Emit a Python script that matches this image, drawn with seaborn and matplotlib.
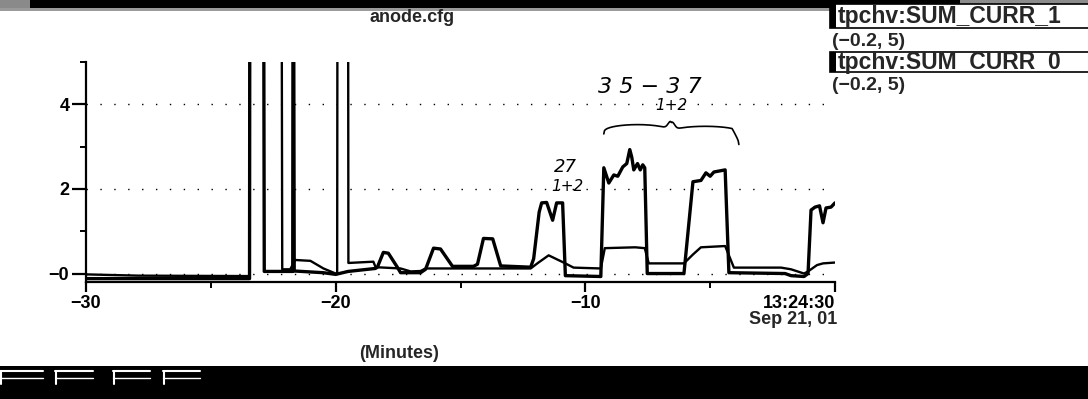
import numpy as np
import pandas as pd
import seaborn as sns
import matplotlib
matplotlib.use("Agg")
import matplotlib.pyplot as plt
from matplotlib.patches import Rectangle

# Strip-chart history of the two anode current sums (minutes before 13:24:30)
minutes_1 = [-30.0, -23.45, -23.44, -22.88, -22.86, -22.10, -21.72, -21.71, -21.68, -21.66,
             -20.50, -20.00, -19.50, -18.41, -18.33, -18.09, -17.89, -17.53, -17.40, -16.60,
             -16.40, -16.08, -15.80, -15.32, -14.48, -14.32, -14.08, -13.71, -13.39, -12.19,
             -12.07, -11.85, -11.75, -11.55, -11.31, -11.15, -10.91, -10.80, -9.38, -9.26,
             -9.06, -8.86, -8.70, -8.50, -8.34, -8.22, -8.14, -8.06, -7.91, -7.80,
             -7.70, -7.62, -7.52, -6.05, -5.69, -5.37, -5.17, -5.00, -4.85, -4.40,
             -4.25, -2.00, -1.76, -1.24, -1.08, -0.96, -0.80, -0.62, -0.48, -0.36,
             -0.16, 0.0]
curr_1 = [-0.12, -0.12, 6.0, 6.0, 0.05, 0.05, 0.05, 6.0, 6.0, 0.06,
          0.02, -0.02, 0.05, 0.12, 0.15, 0.50, 0.48, 0.15, 0.02, 0.02,
          0.10, 0.60, 0.58, 0.17, 0.17, 0.22, 0.83, 0.82, 0.18, 0.15,
          0.35, 1.45, 1.67, 1.68, 1.26, 1.67, 1.67, -0.05, -0.07, 2.50,
          2.14, 2.33, 2.30, 2.52, 2.60, 2.93, 2.75, 2.45, 2.60, 2.45,
          2.57, 2.50, 0.00, 0.00, 2.17, 2.20, 2.38, 2.30, 2.40, 2.45,
          0.02, 0.00, -0.05, -0.07, 0.00, 1.50, 1.57, 1.60, 1.20, 1.55,
          1.57, 1.67]

minutes_0 = [-30.0, -27.9, -23.45, -23.44, -22.16, -22.14, -21.82, -21.62, -21.01, -20.49,
             -20.00, -19.94, -19.93, -19.50, -19.49, -18.49, -18.40, -17.40, -17.00, -16.60,
             -16.40, -12.19, -11.90, -11.47, -10.87, -10.47, -9.38, -9.22, -8.00, -7.62,
             -7.46, -6.05, -5.69, -5.37, -4.40, -4.05, -2.16, -1.76, -1.24, -1.08,
             -0.72, -0.48, 0.0]
curr_0 = [-0.02, -0.05, -0.06, 6.0, 6.0, 0.10, 0.10, 0.32, 0.30, 0.12,
          0.00, 0.00, 6.0, 6.0, 0.25, 0.28, 0.15, 0.12, 0.05, 0.06,
          0.12, 0.12, 0.25, 0.43, 0.26, 0.14, 0.12, 0.60, 0.62, 0.60,
          0.24, 0.24, 0.45, 0.62, 0.65, 0.14, 0.14, 0.10, 0.00, 0.05,
          0.20, 0.24, 0.26]

channels = ["tpchv:SUM_CURR_1", "tpchv:SUM_CURR_0"]
channel_range = "(\u22120.2, 5)"
x_ticks = [-30, -20, -10, 0]
x_ticklabels = ["\u221230", "\u221220", "\u221210", "13:24:30"]
y_ticks = [0, 2, 4]
y_ticklabels = ["\u22120", "2", "4"]

df = pd.concat([
    pd.DataFrame({"minutes": minutes_1, "current": curr_1, "channel": channels[0]}),
    pd.DataFrame({"minutes": minutes_0, "current": curr_0, "channel": channels[1]}),
], ignore_index=True)

sns.set_theme(style="ticks")
plt.rcParams["font.family"] = ["Liberation Sans", "DejaVu Sans"]
plt.rcParams["font.weight"] = "bold"

W, H = 1088, 399
fig = plt.figure(figsize=(W / 100, H / 100), dpi=100)
fig.patch.set_facecolor("white")


def fx(px):
    return px / W


def fy(py):
    return 1 - py / H


ax = fig.add_axes([fx(86), fy(282), fx(835 - 86), (282 - 62) / H])

sns.lineplot(data=df, x="minutes", y="current", hue="channel", size="channel",
             palette={channels[0]: "black", channels[1]: "black"},
             sizes={channels[0]: 2.4, channels[1]: 1.7},
             estimator=None, sort=False, legend=False, ax=ax)

ax.set_xlim(-30, 0)
ax.set_ylim(-0.2, 5)
ax.set_xlabel("")
ax.set_ylabel("")
for side in ("top", "right"):
    ax.spines[side].set_visible(False)
for side in ("left", "bottom"):
    ax.spines[side].set_linewidth(1.6)
    ax.spines[side].set_color("black")

ax.set_xticks(x_ticks)
ax.set_xticklabels(x_ticklabels)
ax.set_xticks([-25, -15, -5], minor=True)
ax.set_yticks(y_ticks)
ax.set_yticklabels(y_ticklabels)
ax.set_yticks([1, 3, 5], minor=True)
ax.tick_params(which="major", direction="out", width=1.6, colors="black", labelsize=13)
ax.tick_params(axis="x", which="major", length=7, pad=2)
ax.tick_params(axis="y", which="major", length=10, pad=2)
ax.tick_params(which="minor", direction="out", length=4, width=1.4, colors="black")
for lbl in ax.get_xticklabels() + ax.get_yticklabels():
    lbl.set_fontweight("bold")
ax.get_xticklabels()[-1].set_horizontalalignment("right")

ax.grid(axis="y", which="major", color="black", linestyle=(0, (1, 9)), linewidth=1.0)
ax.set_axisbelow(True)

# title, axis captions
fig.text(fx(412), fy(17), "anode.cfg", ha="center", va="center", fontsize=13, fontweight="bold")
fig.text(fx(837), fy(319), "Sep 21, 01", ha="right", va="center", fontsize=13, fontweight="bold")
fig.text(fx(399), fy(353), "(Minutes)", ha="center", va="center", fontsize=13, fontweight="bold")

# pen notes on the printout
hand = dict(family="DejaVu Sans", fontweight="light", style="italic", color="black")
ax.text(-10.8, 2.52, "27", ha="center", va="center", fontsize=13, **hand)
ax.text(-10.7, 2.05, "1+2", ha="center", va="center", fontsize=11, **hand)
ax.text(-7.4, 4.4, "3 5 \u2212 3 7", ha="center", va="center", fontsize=16, **hand)
ax.text(-6.55, 3.96, "1+2", ha="center", va="center", fontsize=11, **hand)

b0, b1 = minutes_1[39], minutes_1[60] + 0.4
t = np.linspace(0, 1, 200)
mid = 0.5
brace = 3.3 + 0.22 * np.sin(np.pi * np.clip(t / mid, 0, 1)) ** 0.3 * (t < mid) \
    + 0.18 * np.sin(np.pi * np.clip((t - mid) / (1 - mid), 0, 1)) ** 0.3 * (t >= mid) \
    + 0.22 * np.exp(-((t - mid) / 0.03) ** 2)
brace = brace - 0.25 * (t > 0.95) * ((t - 0.95) / 0.05)
ax.plot(b0 + (b1 - b0) * t, brace, color="black", lw=1.2, clip_on=False)

# window frame bands
fig.add_artist(Rectangle((fx(30), fy(8)), fx(930), 8 / H, transform=fig.transFigure,
                         facecolor="black", edgecolor="none"))
fig.add_artist(Rectangle((0, fy(8)), fx(30), 8 / H, transform=fig.transFigure,
                         facecolor="#8a8a8a", edgecolor="none"))
fig.add_artist(Rectangle((0, fy(11)), fx(830), 3 / H, transform=fig.transFigure,
                         facecolor="#9a9a9a", edgecolor="none"))
fig.add_artist(Rectangle((fx(960), fy(8)), fx(W - 960), 8 / H, transform=fig.transFigure,
                         facecolor="#8c8c8c", edgecolor="none"))

# legend block on the right
rows = [(4, 28, channels[0]), (52, 72, channels[1])]
for top, bot, name in rows:
    fig.add_artist(Rectangle((fx(830), fy(bot)), fx(W - 830 + 2), (bot - top) / H,
                             transform=fig.transFigure, facecolor="white",
                             edgecolor="black", lw=1.2))
    fig.add_artist(Rectangle((fx(830), fy(bot)), fx(6), (bot - top) / H,
                             transform=fig.transFigure, facecolor="black", edgecolor="none"))
    fig.text(fx(838), fy((top + bot) / 2 + 1), name, ha="left", va="center",
             fontsize=16.5, fontweight="bold")
for yc in (41, 86):
    fig.text(fx(832), fy(yc), channel_range, ha="left", va="center", fontsize=14,
             fontweight="bold")

fig.add_artist(Rectangle((0, 0), 1, (H - 366) / H, transform=fig.transFigure,
                         facecolor="black", edgecolor="none"))
for x0, x1 in [(0, 43), (55, 93), (113, 150), (163, 200)]:
    fig.add_artist(plt.Line2D([fx(x0), fx(x1)], [fy(371), fy(371)], transform=fig.transFigure,
                              color="white", lw=1.5))
    fig.add_artist(plt.Line2D([fx(x0 + 1), fx(x0 + 1)], [fy(371), fy(384)],
                              transform=fig.transFigure, color="white", lw=1.5))
    fig.add_artist(plt.Line2D([fx(x0), fx(x1)], [fy(378), fy(378)], transform=fig.transFigure,
                              color="white", lw=1.0))

fig.savefig("out.png", dpi=100, facecolor="white")
